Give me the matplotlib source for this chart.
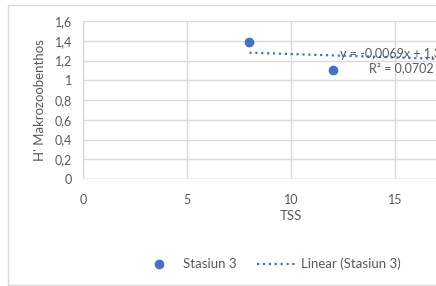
import matplotlib
matplotlib.use("Agg")
import matplotlib.pyplot as plt
from matplotlib.patches import Rectangle
import numpy as np

# data
tss = [8, 12]
h_makro = [1.39, 1.10]
trend_slope = -0.0069
trend_intercept = 1.3345
trend_r2 = 0.0702
x_ticks = [0, 5, 10, 15]
y_ticks = [0, 0.2, 0.4, 0.6, 0.8, 1.0, 1.2, 1.4, 1.6]
y_tick_labels = ["0", "0,2", "0,4", "0,6", "0,8", "1", "1,2", "1,4", "1,6"]

blue = "#4472C4"
grey_text = "#595959"
grid_col = "#d9d9d9"

plt.rcParams['font.family'] = ['Lato', 'DejaVu Sans']

W, H = 436, 286
fig = plt.figure(figsize=(W / 100, H / 100), dpi=100)

# chart area border
fig.patches.append(Rectangle((8 / W, 1 - 285 / H), 1, (285 - 5) / H,
                             transform=fig.transFigure, fill=False,
                             edgecolor=grid_col, linewidth=1))

ax = fig.add_axes([83 / W, 1 - 179 / H, 1 - 83 / W, (179 - 21) / H])
ax.set_xlim(0, (W - 83) / 20.8)
ax.set_ylim(0, 1.6)

for s in ax.spines.values():
    s.set_visible(False)
ax.grid(True, color=grid_col, linewidth=1)
ax.set_axisbelow(True)
ax.axvline(0, color=grid_col, linewidth=1)
ax.axhline(0, color=grid_col, linewidth=1)

ax.set_xticks(x_ticks)
ax.set_yticks(y_ticks)
ax.set_yticklabels(y_tick_labels)
ax.tick_params(length=0, labelsize=9, labelcolor=grey_text)
ax.tick_params(axis='x', pad=11)
ax.tick_params(axis='y', pad=8)

pts, = ax.plot(tss, h_makro, 'o', color=blue, markersize=6, label="Stasiun 3",
               clip_on=False)
xt = np.array([min(tss), 20])
trend, = ax.plot(xt, trend_slope * xt + trend_intercept, ':', color=blue,
                 linewidth=1.6, label="Linear (Stasiun 3)")

eq = "y = {}x + {}\nR² = {}".format(
    str(trend_slope).replace('.', ','),
    str(trend_intercept).replace('.', ','),
    str(trend_r2).replace('.', ','))
fig.text(401.5 / W, 1 - 61 / H, eq, ha='center', va='center', fontsize=9,
         color=grey_text, linespacing=1.25)

ax.set_ylabel("H' Makrozoobenthos", fontsize=9.5, color=grey_text, labelpad=6)
fig.text(291 / W, 1 - 216 / H, "TSS", ha='center', va='center', fontsize=9.5,
         color=grey_text)

fig.legend(handles=[pts, trend], loc='center', ncol=2,
           bbox_to_anchor=(270 / W, 1 - 264 / H), frameon=False, fontsize=9.5,
           labelcolor=grey_text, handlelength=3, columnspacing=1.5,
           handletextpad=0.38)

fig.savefig("out.png", dpi=100)
